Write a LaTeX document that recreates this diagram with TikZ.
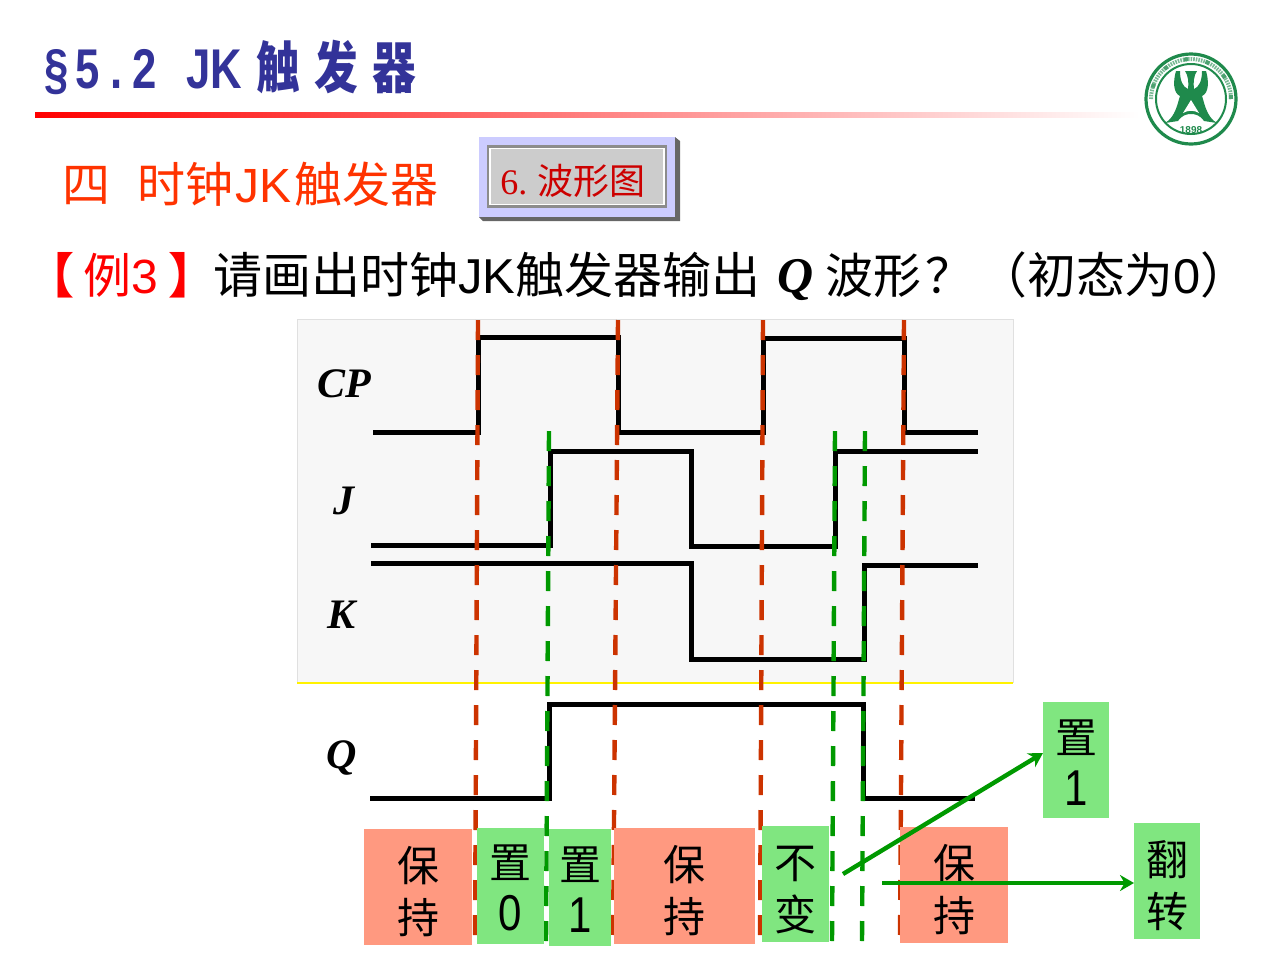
\documentclass[tikz,border=0pt]{standalone}
\usepackage{fontspec}
\usepackage{graphicx}
\usetikzlibrary{arrows.meta}
\setmainfont{Noto Sans CJK SC}
\newfontfamily\lat{Liberation Sans}
\newfontfamily\sig{Liberation Serif}[BoldItalicFont={Liberation Serif Bold Italic}]
\newcommand{\fsz}[1]{\fontsize{#1}{#1}\selectfont}
\newcommand{\boxfont}{\fontsize{21}{26}\selectfont}
\newcommand{\boxtext}[2]{\rule{0pt}{22.5pt}#1\\#2}
\newcommand{\digtext}[2]{\rule{0pt}{19pt}#1\\\scalebox{1}[1.2]{\lat #2}}
\definecolor{titleblue}{HTML}{333399}
\definecolor{headred}{HTML}{FF3300}
\definecolor{clkred}{HTML}{CC3300}
\definecolor{edgegreen}{HTML}{009900}
\definecolor{holdfill}{HTML}{FF9980}
\definecolor{setfill}{HTML}{80E680}
\definecolor{logogreen}{HTML}{1F8A4C}
\tikzset{
wave/.style={line width=2.5pt, black, line join=miter},
clkedge/.style={line width=2.2pt, clkred, dash pattern=on 10pt off 7.5pt},
dataedge/.style={line width=2.2pt, edgegreen, dash pattern=on 10pt off 7.5pt},
result/.style={line width=2.2pt, edgegreen, -{Stealth[length=7pt, width=8pt]}},
sigtext/.style={font=\sig\fsz{21}\bfseries\itshape},
headline/.style={anchor=west, inner sep=0pt},
holdbox/.style={fill=holdfill, align=center, inner sep=0pt, font=\boxfont},
setbox/.style={fill=setfill, align=center, inner sep=0pt, font=\boxfont},
}
\begin{document}
\begin{tikzpicture}[x=0.5pt, y=-0.5pt]
    \useasboundingbox (0,0) rectangle (1280,960);
    % title
    \node[headline, text=titleblue] (title) at (44,67) {\fsz{28}\bfseries\scalebox{0.78}[1]{{\lat\S\hspace{4.5pt}5\hspace{6.5pt}.\hspace{6.5pt}2\hspace{19pt}JK}\hspace{9pt}触\,\,发\,\,器}};
    \shade[left color=red, right color=white] (35,112) rectangle (1140,117);
    % logo
    \begin{scope}[shift={(1191,99)}]
        \draw[logogreen, line width=1.6pt] (0,0) circle (45);
        \draw[logogreen, line width=1pt] (0,0) circle (35);
        \draw[logogreen!60, line width=2pt, dash pattern=on 0.8pt off 0.5pt] (-40,0) arc (180:360:40);
        \draw[logogreen!80, line width=2pt, dash pattern=on 2pt off 9pt] (40,0) arc (0:-180:40);
        \fill[logogreen] (-26,24) .. controls (-15,18) and (-13,2) .. (-11,-3)
            .. controls (-18,-6) and (-18,-18) .. (-15,-28) -- (-11,-28)
            .. controls (-11,-18) and (-8,-12) .. (-3,-10) .. controls (-2,-16) and (-3,-24) .. (-6,-28) -- (-2,-28)
            -- (2,-28) -- (6,-28) .. controls (3,-24) and (2,-16) .. (3,-10)
            .. controls (8,-12) and (11,-18) .. (11,-28) -- (15,-28)
            .. controls (18,-18) and (18,-6) .. (11,-3)
            .. controls (13,2) and (15,18) .. (26,24) -- (13,22)
            .. controls (9,16) and (4,15) .. (0,15) .. controls (-4,15) and (-9,16) .. (-13,22) -- cycle;
        \fill[white] (0,1) -- (-8,14) .. controls (-3,11) and (3,11) .. (8,14) -- cycle;
        \node[logogreen, font=\lat\bfseries\fsz{5}, inner sep=0pt] (year) at (0,31) {1898};
    \end{scope}
    % heading and button
    \node[headline, text=headred] (sect) at (62,184) {\fsz{24}四\hspace{13.5pt}时钟\hspace{1pt}{\lat JK}\hspace{1.5pt}触发器};
    \fill[black!60] (479,217) -- (483,221) -- (680,221) -- (680,141) -- (675,137) -- cycle;
    \fill[blue!20] (479,137) rectangle (675,217);
    \fill[black!45] (487,145) rectangle (667,208);
    \node[draw=white, line width=0.8pt, fill=black!20, minimum width=87pt, minimum height=28pt, inner sep=0pt] (button) at (577,176.5) {};
    \node[headline, text=red!80!black] (btext) at (500,181) {\fsz{18}{\sig 6.}\hspace{5pt}波形图};
    % question
    \node[headline, text=red] (ex) at (52,275) {\fsz{24}\bfseries\hspace{-13pt}【\hspace{4.5pt}\mdseries 例{\lat 3}\bfseries\hspace{5pt}】};
    \node[headline] (qa) at (213,275) {\fsz{24.5}请画出时钟{\lat JK}触发器输出};
    \node[headline] (qq) at (777,280) {\sig\fsz{25}\bfseries\itshape Q};
    \node[headline] (qb) at (825,275) {\fsz{24}波形\hspace{2pt}？};
    \node[headline] (qc) at (978,275) {\fsz{24.4}（初态为{\lat 0}）};
    % panel
    \fill[black!3] (297,319) rectangle (1013,683);
    \draw[black!12, line width=0.5pt] (297,683) -- (297,319) -- (1013,319) -- (1013,683);
    \draw[yellow, line width=0.6pt] (297,683) -- (1013,683);
    \node[sigtext] (cp) at (344,384) {CP};
    \node[sigtext] (j) at (344,501) {J};
    \node[sigtext] (k) at (342,615) {K};
    \node[sigtext] (q) at (342,758) {Q};
    % waves
    \draw[wave] (373,432) -- (478,432) -- (478,337) -- (618,337) -- (618,432) -- (763,432) -- (763,338) -- (904,338) -- (904,432) -- (978,432);
    \draw[wave] (371,545) -- (550,545) -- (550,451) -- (691,451) -- (691,546) -- (835,546) -- (835,451) -- (978,451);
    \draw[wave] (371,563) -- (691,563) -- (691,659) -- (864,659) -- (864,565) -- (978,565);
    \draw[wave] (370,798) -- (549,798) -- (549,704) -- (863,704) -- (863,798) -- (975,798);
    % edges
    \foreach \xa/\xb in {478/475, 618/613, 763/760, 904/900}
        \draw[clkedge] (\xa,320) -- (\xb,945);
    \foreach \xa/\xb in {549/546, 835/832, 865/862}
        \draw[dataedge] (\xa,431) -- (\xb,942);
    % boxes
    \node[holdbox, minimum width=54pt, minimum height=58pt] (hold1) at (418,887) {\boxtext{保}{持}};
    \node[setbox, minimum width=33.5pt, minimum height=58pt] (set0) at (510.5,886) {\digtext{置}{0}};
    \node[setbox, minimum width=31pt, minimum height=58.5pt] (set1) at (580,887.5) {\digtext{置}{1}};
    \node[holdbox, minimum width=70.5pt, minimum height=58pt] (hold2) at (684.5,886) {\boxtext{保}{持}};
    \node[setbox, minimum width=33.5pt, minimum height=58pt] (same) at (795.5,884) {\boxtext{不}{变}};
    \node[holdbox, minimum width=54pt, minimum height=58pt] (hold3) at (954,885) {\boxtext{保}{持}};
    \node[setbox, minimum width=33pt, minimum height=58pt] (seta) at (1076,760) {\digtext{置}{1}};
    \node[setbox, minimum width=33pt, minimum height=58pt] (flip) at (1167,881) {\boxtext{翻}{转}};
    % arrows
    \coordinate (from1) at (843,874);
    \coordinate (from2) at (882,883);
    \coordinate (to1) at (1043,753);
    \coordinate (to2) at (1134,883);
    \draw[result] (from1) -- (to1);
    \draw[result] (from2) -- (to2);
\end{tikzpicture}
\end{document}
